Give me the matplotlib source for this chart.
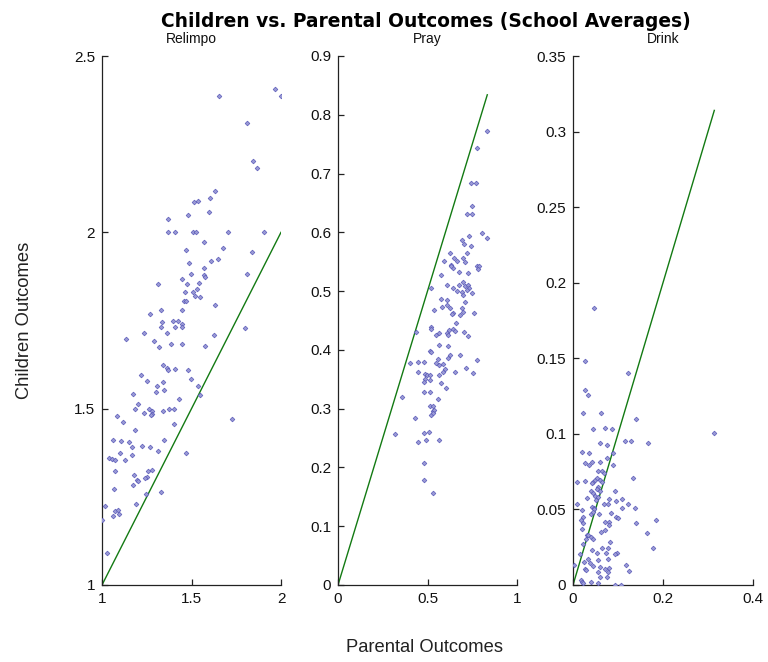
import matplotlib
matplotlib.use("Agg")
import matplotlib.pyplot as plt
import numpy as np

plt.rcParams['font.family'] = ['Liberation Sans', 'DejaVu Sans']

# ---- Data ----
relimpo_parent = [1.655, 1.966, 2.0, 1.81, 1.844, 1.864, 1.629, 1.601, 1.596, 1.516, 1.534, 1.480,
                  1.367, 1.367, 1.408, 1.507, 1.523, 1.702, 1.903, 1.570, 1.676, 1.467, 1.836,
                  1.609, 1.650, 1.488, 1.570, 1.495, 1.570, 1.575, 1.810, 1.449, 1.315, 1.473,
                  1.542, 1.533, 1.510, 1.464, 1.521, 1.549, 1.456, 1.469, 1.629, 1.328, 1.447,
                  1.268, 1.334, 1.395, 1.423, 1.328, 1.408, 1.447, 1.447, 1.235, 1.363, 1.624,
                  1.797, 1.134, 1.289, 1.320, 1.387, 1.449, 1.577, 1.339, 1.365, 1.371, 1.406,
                  1.220, 1.480, 1.495, 1.253, 1.339, 1.307, 1.300, 1.346, 1.173, 1.535, 1.549,
                  1.428, 1.199, 1.184, 1.263, 1.374, 1.402, 1.277, 1.279, 1.274, 1.235, 1.339,
                  1.085, 1.119, 1.186, 1.400, 1.724, 1.060, 1.106, 1.153, 1.168, 1.222, 1.268,
                  1.348, 1.315, 1.101, 1.168, 1.039, 1.056, 1.073, 1.130, 1.467, 1.073, 1.179,
                  1.194, 1.203, 1.171, 1.255, 1.279, 1.253, 1.242, 1.067, 1.328, 1.246, 1.192,
                  1.017, 1.060, 1.073, 1.088, 1.095, 1.000, 1.026]
relimpo_child = [2.386, 2.406, 2.386, 2.311, 2.201, 2.182, 2.117, 2.096, 2.058, 2.086, 2.089, 2.049,
                 2.039, 2.000, 2.000, 2.000, 2.000, 2.000, 2.000, 1.974, 1.956, 1.950, 1.943,
                 1.920, 1.925, 1.912, 1.899, 1.882, 1.879, 1.872, 1.882, 1.867, 1.854, 1.854,
                 1.857, 1.840, 1.831, 1.831, 1.819, 1.817, 1.806, 1.806, 1.793, 1.780, 1.780,
                 1.768, 1.746, 1.749, 1.749, 1.732, 1.732, 1.740, 1.732, 1.714, 1.714, 1.708,
                 1.730, 1.697, 1.691, 1.674, 1.683, 1.683, 1.678, 1.623, 1.615, 1.610, 1.612,
                 1.596, 1.609, 1.584, 1.578, 1.575, 1.564, 1.547, 1.552, 1.542, 1.564, 1.538,
                 1.527, 1.513, 1.500, 1.500, 1.500, 1.500, 1.492, 1.485, 1.481, 1.487, 1.493,
                 1.479, 1.463, 1.439, 1.456, 1.470, 1.412, 1.408, 1.405, 1.391, 1.394, 1.391,
                 1.412, 1.381, 1.374, 1.369, 1.361, 1.357, 1.354, 1.354, 1.374, 1.323, 1.312,
                 1.298, 1.295, 1.283, 1.322, 1.326, 1.306, 1.303, 1.272, 1.265, 1.257, 1.229,
                 1.225, 1.197, 1.210, 1.213, 1.201, 1.183, 1.092]

pray_parent = [0.834, 0.775, 0.741, 0.769, 0.749, 0.719, 0.747, 0.803, 0.834, 0.734, 0.691, 0.706,
               0.741, 0.626, 0.719, 0.594, 0.648, 0.666, 0.697, 0.711, 0.629, 0.644, 0.633, 0.775,
               0.789, 0.784, 0.678, 0.726, 0.574, 0.607, 0.644, 0.674, 0.700, 0.711, 0.726, 0.734,
               0.719, 0.518, 0.663, 0.691, 0.700, 0.747, 0.574, 0.611, 0.581, 0.609, 0.626, 0.644,
               0.635, 0.538, 0.691, 0.709, 0.682, 0.697, 0.760, 0.657, 0.518, 0.520, 0.547, 0.566,
               0.611, 0.622, 0.644, 0.616, 0.706, 0.728, 0.434, 0.656, 0.563, 0.616, 0.560, 0.566,
               0.514, 0.520, 0.402, 0.445, 0.480, 0.449, 0.488, 0.496, 0.514, 0.547, 0.588, 0.598,
               0.588, 0.616, 0.626, 0.682, 0.775, 0.564, 0.578, 0.606, 0.654, 0.713, 0.752, 0.486,
               0.482, 0.514, 0.480, 0.514, 0.359, 0.560, 0.514, 0.533, 0.529, 0.538, 0.518, 0.529,
               0.432, 0.318, 0.480, 0.507, 0.449, 0.492, 0.566, 0.480, 0.480, 0.533]
pray_child = [0.772, 0.743, 0.684, 0.684, 0.644, 0.631, 0.631, 0.599, 0.590, 0.593, 0.587, 0.581,
              0.576, 0.564, 0.564, 0.552, 0.556, 0.552, 0.556, 0.550, 0.544, 0.539, 0.543, 0.543,
              0.543, 0.537, 0.533, 0.530, 0.527, 0.510, 0.505, 0.510, 0.516, 0.508, 0.510, 0.505,
              0.502, 0.505, 0.501, 0.499, 0.493, 0.497, 0.486, 0.485, 0.473, 0.476, 0.472, 0.463,
              0.461, 0.468, 0.471, 0.481, 0.459, 0.465, 0.463, 0.445, 0.439, 0.436, 0.425, 0.429,
              0.429, 0.434, 0.436, 0.426, 0.431, 0.424, 0.431, 0.432, 0.408, 0.407, 0.384, 0.375,
              0.398, 0.396, 0.378, 0.379, 0.379, 0.362, 0.359, 0.358, 0.358, 0.378, 0.376, 0.367,
              0.363, 0.386, 0.391, 0.391, 0.383, 0.357, 0.344, 0.335, 0.363, 0.370, 0.361, 0.350,
              0.345, 0.349, 0.329, 0.329, 0.320, 0.316, 0.305, 0.304, 0.296, 0.298, 0.290, 0.292,
              0.284, 0.257, 0.259, 0.261, 0.243, 0.246, 0.247, 0.208, 0.179, 0.157]

drink_parent = [0.047, 0.026, 0.026, 0.034, 0.1215, 0.023, 0.0615, 0.140, 0.045, 0.071, 0.0867,
                0.314, 0.1156, 0.128, 0.167, 0.060, 0.075, 0.0207, 0.0348, 0.089, 0.026, 0.036,
                0.042, 0.060, 0.0896, 0.075, 0.0096, 0.026, 0.045, 0.042, 0.049, 0.0526, 0.0548,
                0.0637, 0.069, 0.134, 0.060, 0.0637, 0.0563, 0.054, 0.039, 0.0437, 0.048, 0.0548,
                0.051, 0.060, 0.0933, 0.0096, 0.0318, 0.0415, 0.047, 0.039, 0.080, 0.069, 0.095,
                0.1096, 0.1215, 0.108, 0.138, 0.0467, 0.045, 0.057, 0.077, 0.0837, 0.019, 0.0215,
                0.0178, 0.023, 0.095, 0.1007, 0.140, 0.1844, 0.071, 0.0807, 0.0807, 0.0704,
                0.0207, 0.0615, 0.165, 0.0304, 0.034, 0.029, 0.039, 0.023, 0.0444, 0.082, 0.0637,
                0.0415, 0.0785, 0.177, 0.0156, 0.073, 0.0526, 0.097, 0.093, 0.034, 0.056, 0.0785,
                0.0237, 0.0378, 0.045, 0.117, 0.124, 0.060, 0.0807, 0.071, 0.026, 0.029, 0.056,
                0.0785, 0.060, 0.075, 0.0178, 0.0207, 0.023, 0.039, 0.056, 0.0022, 0.093, 0.106]
drink_child = [0.1835, 0.148, 0.129, 0.1255, 0.140, 0.114, 0.1136, 0.1096, 0.103, 0.104, 0.103,
               0.1008, 0.0953, 0.0953, 0.0937, 0.0937, 0.0926, 0.088, 0.0873, 0.0871, 0.0807,
               0.0794, 0.0812, 0.0816, 0.0794, 0.084, 0.0683, 0.0688, 0.0683, 0.0677, 0.0695,
               0.0706, 0.0754, 0.0754, 0.0743, 0.0706, 0.0695, 0.0683, 0.065, 0.0633, 0.062,
               0.0607, 0.0591, 0.058, 0.0562, 0.0624, 0.0624, 0.0534, 0.0574, 0.0518, 0.0507,
               0.0468, 0.0569, 0.0536, 0.0556, 0.0569, 0.0534, 0.0507, 0.0507, 0.050, 0.048,
               0.0468, 0.0536, 0.0474, 0.0496, 0.0452, 0.043, 0.0412, 0.0452, 0.0441, 0.0412,
               0.0428, 0.0419, 0.0419, 0.0397, 0.0364, 0.0372, 0.0348, 0.0342, 0.0331, 0.0331,
               0.0302, 0.032, 0.0269, 0.0304, 0.0286, 0.0247, 0.0232, 0.0243, 0.0247, 0.0205,
               0.021, 0.0214, 0.021, 0.0205, 0.0172, 0.0165, 0.0172, 0.0154, 0.0143, 0.0128,
               0.0132, 0.0095, 0.0121, 0.0114, 0.0106, 0.0104, 0.0099, 0.0088, 0.0088, 0.0055,
               0.0055, 0.0033, 0.0022, 0.0015, 0.0022, 0.0015, 0.0132, 0.0, 0.0]

panel_titles = ["Relimpo", "Pray", "Drink"]
xlims = [(1, 2), (0, 1), (0, 0.4)]
ylims = [(1, 2.5), (0, 0.9), (0, 0.35)]
xticks = [[1, 1.5, 2], [0, 0.5, 1], [0, 0.2, 0.4]]
xticklabels = [["1", "1.5", "2"], ["0", "0.5", "1"], ["0", "0.2", "0.4"]]
yticks = [[1, 1.5, 2, 2.5],
          [0, 0.1, 0.2, 0.3, 0.4, 0.5, 0.6, 0.7, 0.8, 0.9],
          [0, 0.05, 0.1, 0.15, 0.2, 0.25, 0.3, 0.35]]
yticklabels = [["1", "1.5", "2", "2.5"],
               ["0", "0.1", "0.2", "0.3", "0.4", "0.5", "0.6", "0.7", "0.8", "0.9"],
               ["0", "0.05", "0.1", "0.15", "0.2", "0.25", "0.3", "0.35"]]
series = [(relimpo_parent, relimpo_child), (pray_parent, pray_child), (drink_parent, drink_child)]

W, H = 768, 662
fig = plt.figure(figsize=(W / 100, H / 100), dpi=100)
lefts = [102, 338, 573]
widths = [179, 179, 180]
top_px, bot_px = 56, 585

axes = []
for i in range(3):
    ax = fig.add_axes([lefts[i] / W, 1 - bot_px / H, widths[i] / W, (bot_px - top_px) / H])
    px, cy = series[i]
    ax.plot(px, cy, linestyle='none', marker='D', markersize=2.4,
            markerfacecolor='#9a9ad6', markeredgecolor='#5a5ab8', markeredgewidth=0.5, zorder=3)
    lo = min(px)
    hi = max(px)
    ax.plot([min(lo, xlims[i][0]), hi], [min(lo, xlims[i][0]), hi], color='#137a13', lw=1.0, zorder=2)
    ax.set_xlim(*xlims[i])
    ax.set_ylim(*ylims[i])
    ax.set_xticks(xticks[i])
    ax.set_xticklabels(xticklabels[i])
    ax.set_yticks(yticks[i])
    ax.set_yticklabels(yticklabels[i])
    for s in ['top', 'right']:
        ax.spines[s].set_visible(False)
    for s in ['left', 'bottom']:
        ax.spines[s].set_color('#222222')
        ax.spines[s].set_linewidth(0.9)
    ax.tick_params(direction='in', length=4, width=0.9, color='#222222',
                   labelsize=11, labelcolor='#111111', pad=5)
    cx = (lefts[i] + widths[i] / 2) / W
    fig.text(cx, 1 - 43 / H, panel_titles[i], ha='center', va='baseline', fontsize=10, color='#111111')
    axes.append(ax)

fig.text(426 / W, 1 - 27 / H, "Children vs. Parental Outcomes (School Averages)",
         ha='center', va='baseline', fontsize=13.4, fontweight='bold', color='black',
         family=['DejaVu Sans'])
fig.text(25 / W, 1 - 320 / H, "Children Outcomes", rotation=90, ha='center', va='center',
         fontsize=13.2, color='#222222')
fig.text(425 / W, 1 - 648 / H, "Parental Outcomes", ha='center', va='center',
         fontsize=13.2, color='#222222')

fig.savefig("out.png", dpi=100, facecolor='white')
